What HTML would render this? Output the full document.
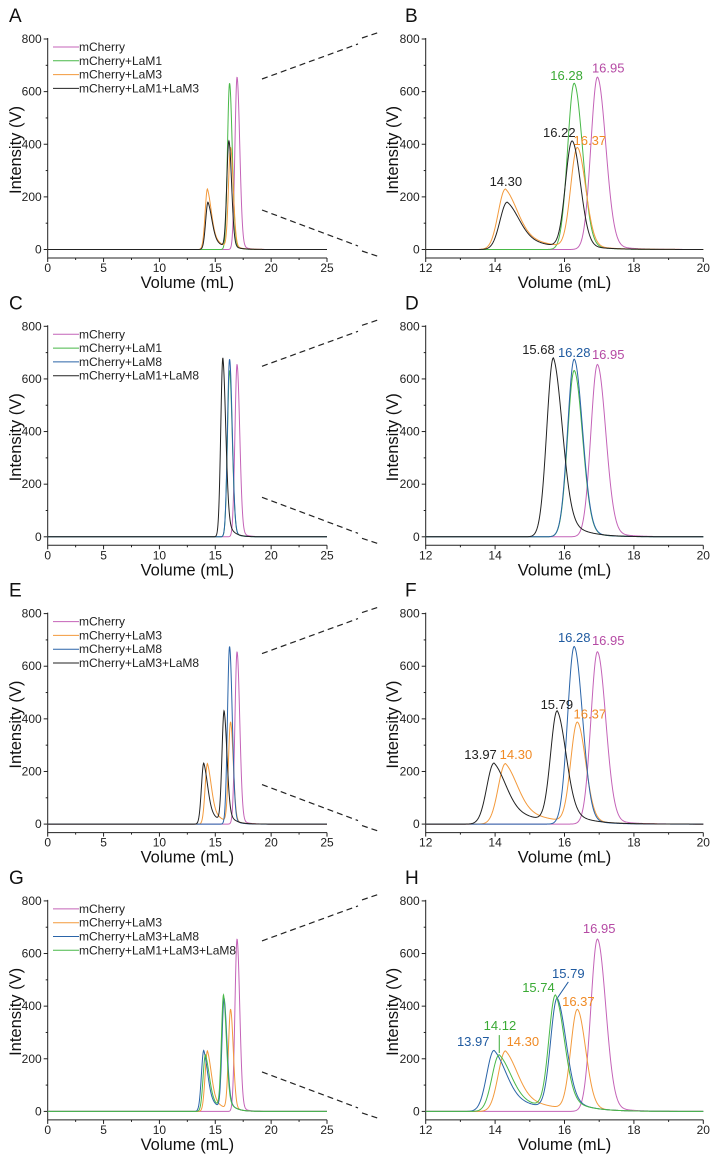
<!DOCTYPE html>
<html><head><meta charset="utf-8"><style>
html,body{margin:0;padding:0;background:#fff;}
svg{display:block;font-family:"Liberation Sans",Arial,sans-serif;}
</style></head>
<body>
<svg id="fig" width="717" height="1156" viewBox="0 0 717 1156" xmlns="http://www.w3.org/2000/svg"></svg>
<script>
// ---- data ----
const panelLetters = [["A","B"],["C","D"],["E","F"],["G","H"]];
const legendNames = [
  ["mCherry","mCherry+LaM1","mCherry+LaM3","mCherry+LaM1+LaM3"],
  ["mCherry","mCherry+LaM1","mCherry+LaM8","mCherry+LaM1+LaM8"],
  ["mCherry","mCherry+LaM3","mCherry+LaM8","mCherry+LaM3+LaM8"],
  ["mCherry","mCherry+LaM3","mCherry+LaM3+LaM8","mCherry+LaM1+LaM3+LaM8"]
];
const seriesColors = [
  ["#c463b8","#48b848","#f39a3c","#222222"],
  ["#c463b8","#48b848","#2a64a8","#222222"],
  ["#c463b8","#f39a3c","#2a64a8","#222222"],
  ["#c463b8","#f39a3c","#2a64a8","#48b848"]
];
// peak centers (mL) per panel/series
const peakCenters = [
  [[16.95],[16.28],[14.30,16.37],[14.35,16.22]],
  [[16.95],[16.28],[16.28],[15.68]],
  [[16.95],[14.30,16.37],[16.28],[13.97,15.79]],
  [[16.95],[14.30,16.37],[13.97,15.79],[14.12,15.74]]
];
// peak heights (V)
const peakHeights = [
  [[655],[632],[230,380],[180,405]],
  [[655],[632],[675],[680]],
  [[655],[230,380],[675],[232,420]],
  [[655],[230,380],[232,420],[215,430]]
];
// peak tail type: 0 = main peak, 1 = broad tailing peak, 2 = medium tail
const peakTailType = [
  [[0],[0],[1,0],[1,0]],
  [[0],[0],[0],[2]],
  [[0],[1,0],[0],[1,2]],
  [[0],[1,0],[1,2],[1,2]]
];
// annotation labels on zoom panels: text, x (mL), y (V), color
const labelTexts = [
  ["14.30","16.28","16.95","16.22","16.37"],
  ["15.68","16.28","16.95"],
  ["13.97","14.30","15.79","16.28","16.95","16.37"],
  ["13.97","14.12","14.30","15.74","15.79","16.37","16.95"]
];
const labelX = [
  [14.31,16.06,17.26,15.85,16.73],
  [15.25,16.28,17.26],
  [13.58,14.60,15.78,16.28,17.26,16.73],
  [13.37,14.14,14.80,15.25,16.11,16.40,17.0]
];
const labelY = [
  [241,644,672,427,397],
  [695,684,676],
  [248,248,438,692,680,401],
  [248,309,248,454,507,401,678]
];
const labelColors = [
  ["#222","#3aaa35","#b54aa4","#222","#f08a24"],
  ["#222","#1f5aa0","#b54aa4"],
  ["#222","#f08a24","#222","#1f5aa0","#b54aa4","#f08a24"],
  ["#1f5aa0","#3aaa35","#f08a24","#3aaa35","#1f5aa0","#f08a24","#b54aa4"]
];
const yTicks = [0,200,400,600,800];
const xTicksFull = [0,5,10,15,20,25];
const xTicksZoom = [12,14,16,18,20];

// ---- layout ----
const NS="http://www.w3.org/2000/svg";
const svg=document.getElementById('fig');
const ROW=287.3;
const SHAPES=[{sl:0.19,sr:0.24,w:0.05,tau:0.5},{sl:0.21,sr:0.35,w:0.45,tau:0.8},{sl:0.19,sr:0.26,w:0.2,tau:0.5}];
function mk(tag,attrs,parent){const e=document.createElementNS(NS,tag);for(const k in attrs)e.setAttribute(k,attrs[k]);(parent||svg).appendChild(e);return e;}
function yScale(oy,v){return oy+249.5-v*210.5/800;}
function peakVal(p,s,x){let v=0;const c=peakCenters[p][s],h=peakHeights[p][s],t=peakTailType[p][s];
  for(let i=0;i<c.length;i++){const sh=SHAPES[t[i]];const d=x-c[i];
    if(d<0)v+=h[i]*Math.exp(-0.5*Math.pow(d/sh.sl,2));
    else v+=h[i]*((1-sh.w)*Math.exp(-0.5*Math.pow(d/sh.sr,2))+sh.w*Math.exp(-d/sh.tau));}
  return v;}

function drawPanel(p,side){
  const oy=p*ROW;
  const left = side===0;
  const x0 = left?47.7:425.7, x1 = left?327:703.3;
  const dmin = left?0:12, dmax = left?25:20;
  const xs = v=>x0+(v-dmin)*(x1-x0)/(dmax-dmin);
  const g=mk('g',{});
  
  
  const L=mk('text',{x:left?9:405,y:oy+22,'font-size':19,fill:'#111'},g);L.textContent=panelLetters[p][side];
  
  
  const ax=mk('path',{d:`M${x0} ${oy+38}V${oy+258}H${x1}`,stroke:'#222','stroke-width':1,fill:'none'},g);
  
  
  for(let v=0;v<=800;v+=100){const y=yScale(oy,v);mk('line',{x1:x0,x2:x0-(v%200===0?4:2),y1:y,y2:y,stroke:'#222'},g);}
  yTicks.forEach(v=>{const t=mk('text',{x:x0-6,y:yScale(oy,v)+4,'font-size':12,'text-anchor':'end',fill:'#222'},g);t.textContent=v;
    
    });
  const step = left?2.5:1;
  for(let v=dmin;v<=dmax+1e-9;v+=step){const x=xs(v);const maj=left?(v%5===0):(v%2===0);mk('line',{x1:x,x2:x,y1:oy+258,y2:oy+258+(maj?4:2),stroke:'#222'},g);}
  (left?xTicksFull:xTicksZoom).forEach(v=>{const t=mk('text',{x:xs(v),y:oy+272,'font-size':12,'text-anchor':'middle',fill:'#222'},g);t.textContent=v;
    
    });
  const yt=mk('text',{x:0,y:0,'font-size':16.5,'text-anchor':'middle',fill:'#111',transform:`translate(${left?21:398},${oy+150}) rotate(-90)`},g);yt.textContent='Intensity (V)';
  
  
  const xt=mk('text',{x:(x0+x1)/2,y:oy+288,'font-size':16.5,'text-anchor':'middle',fill:'#111'},g);xt.textContent='Volume (mL)';
  
  
  for(let s=0;s<4;s++){
    let d='';const stp=left?0.02:0.01;
    for(let x=dmin;x<=dmax+1e-9;x+=stp){d+=(d?'L':'M')+xs(x).toFixed(2)+' '+yScale(oy,peakVal(p,s,x)).toFixed(2);}
    const pa=mk('path',{d:d,stroke:seriesColors[p][s],'stroke-width':1,fill:'none'},g);
    
    
  }
  if(left){
    for(let s=0;s<4;s++){const y=oy+47+s*13.8;
      mk('line',{x1:53,x2:79,y1:y,y2:y,stroke:seriesColors[p][s]},g);
      const t=mk('text',{x:79,y:y+4,'font-size':12,fill:'#222'},g);t.textContent=legendNames[p][s];
      
      }
    const d1=mk('line',{x1:262,y1:oy+79,x2:358,y2:oy+44,stroke:'#222','stroke-dasharray':'6 4','stroke-width':1.2},g);
    
    
    const d2=mk('line',{x1:262,y1:oy+210,x2:358,y2:oy+246,stroke:'#222','stroke-dasharray':'6 4','stroke-width':1.2},g);
    
    
  } else {
    mk('line',{x1:362,y1:oy+38,x2:380,y2:oy+32,stroke:'#222','stroke-dasharray':'6 4','stroke-width':1.2},g);
    mk('line',{x1:362,y1:oy+251,x2:380,y2:oy+257,stroke:'#222','stroke-dasharray':'6 4','stroke-width':1.2},g);
    labelTexts[p].forEach((tx,i)=>{const t=mk('text',{x:xs(labelX[p][i]),y:yScale(oy,labelY[p][i]),'font-size':13,'text-anchor':'middle',fill:labelColors[p][i]},g);t.textContent=tx;
      
      });
    if(p===3){
      mk('line',{x1:xs(14.12),x2:xs(14.12),y1:yScale(oy,290),y2:yScale(oy,222),stroke:'#3aaa35'},g);
      mk('line',{x1:xs(15.80),y1:yScale(oy,432),x2:xs(16.11),y2:yScale(oy,492),stroke:'#1f5aa0'},g);
    }
  }
}
for(let p=0;p<4;p++){drawPanel(p,0);drawPanel(p,1);}
</script>
</body></html>
